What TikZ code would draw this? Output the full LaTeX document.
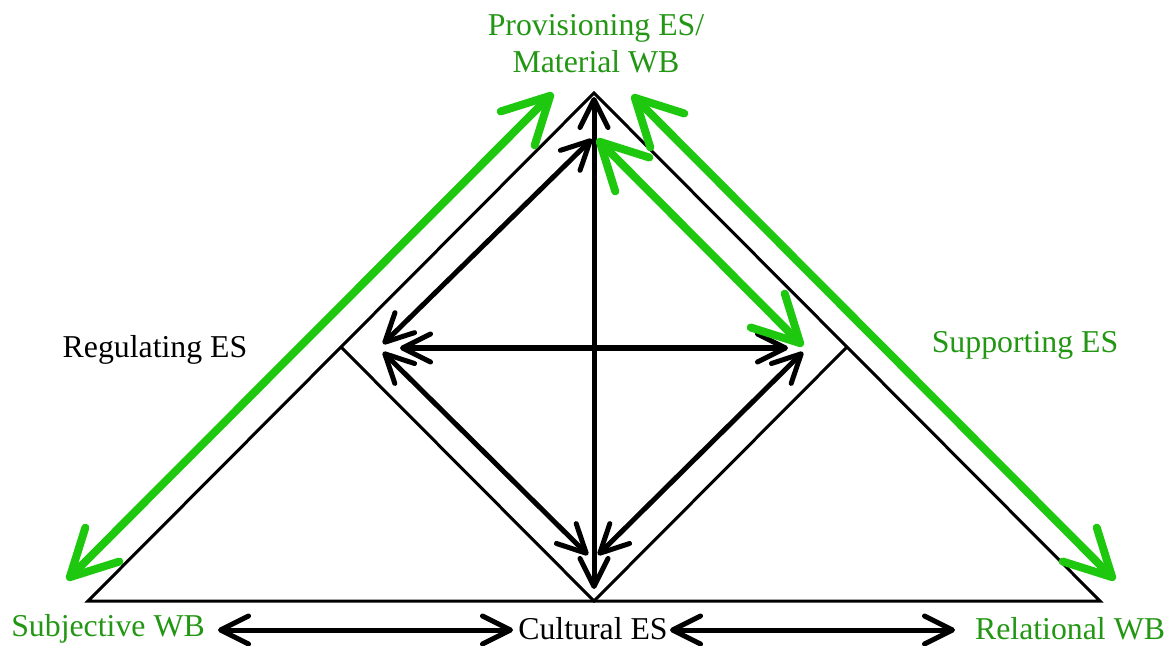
\documentclass[tikz,border=0pt]{standalone}
\usepackage{fontspec}
\setmainfont{LiberationSerif}[Extension=.ttf, UprightFont=*-Regular, BoldFont=*-Bold]
\usetikzlibrary{arrows.meta}
\definecolor{arrgreen}{RGB}{30,200,15}
\definecolor{labgreen}{RGB}{35,150,20}

\begin{document}
\begin{tikzpicture}[x=0.5pt,y=-0.5pt]
        \tikzstyle{every node}= [font=\fontsize{15.9}{18.5}\selectfont, inner sep=0pt, align=center];
        \tikzstyle{side}= [line width=1.5pt];
        \tikzstyle{blk}= [line width=2.5pt, line cap=round,
          {Straight Barb[length=14pt,width=14pt,round]}-{Straight Barb[length=14pt,width=14pt,round]}];
        \tikzstyle{grn}= [line width=4pt, line cap=round, draw=arrgreen,
          {Straight Barb[length=23pt,width=24pt,round]}-{Straight Barb[length=23pt,width=24pt,round]}];
        \useasboundingbox (0,0) rectangle (1171,646);

        % triangle and its midpoints
        \coordinate (sw) at (88,601);
        \coordinate (top) at (594,93);
        \coordinate (se) at (1100,601);
        \coordinate (ml) at (341,347);
        \coordinate (mr) at (847,347);
        \coordinate (mb) at (594,601);
        \draw[side] (sw) -- (top) -- (se) -- cycle;
        \draw[side] (ml) -- (mb) -- (mr);

        % arrow ends
        \coordinate (vt) at (594,97);
        \coordinate (vb) at (594,589);
        \coordinate (hl) at (400,348);
        \coordinate (hr) at (788,348);
        \coordinate (ult) at (592,139);
        \coordinate (ulb) at (383,344);
        \coordinate (llt) at (383,352);
        \coordinate (llb) at (588,555);
        \coordinate (lrb) at (598,555);
        \coordinate (lrt) at (803,352);
        \coordinate (urt) at (597,139);
        \coordinate (urb) at (803,346);
        \coordinate (gl1) at (553,93);
        \coordinate (gl2) at (67,580);
        \coordinate (gr1) at (632,95);
        \coordinate (gr2) at (1115,580);
        \coordinate (bl1) at (218,630);
        \coordinate (bl2) at (513,630);
        \coordinate (br1) at (670,630);
        \coordinate (br2) at (955,630);

        \draw[blk] (vt) -- (vb);
        \draw[blk] (hl) -- (hr);
        \draw[blk] (ult) -- (ulb);
        \draw[blk] (llt) -- (llb);
        \draw[blk] (lrb) -- (lrt);
        \draw[blk] (bl1) -- (bl2);
        \draw[blk] (br1) -- (br2);
        \draw[grn] (urt) -- (urb);
        \draw[grn] (gl1) -- (gl2);
        \draw[grn] (gr1) -- (gr2);

        % labels
        \node[text=labgreen] (prov) at (596,44) {Provisioning ES/\\Material WB};
        \node (reg) at (155,350) {Regulating ES};
        \node[text=labgreen] (sup) at (1025,345) {Supporting ES};
        \node[text=labgreen] (subj) at (108,629) {Subjective WB};
        \node (cult) at (593,629) {Cultural ES};
        \node[text=labgreen] (rel) at (1070,629) {Relational WB};
\end{tikzpicture}
\end{document}
